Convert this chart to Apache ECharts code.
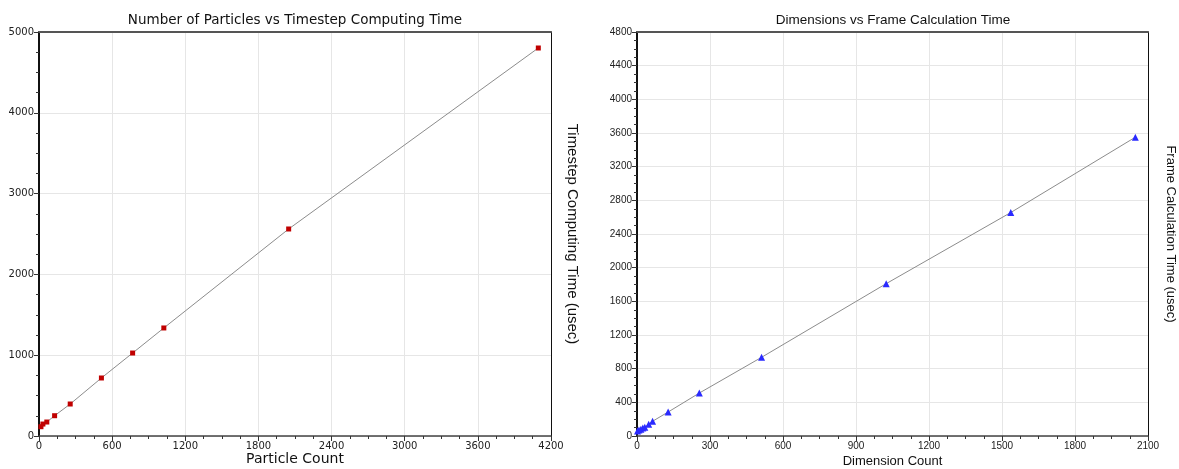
<!DOCTYPE html>
<html>
<head>
<meta charset="utf-8">
<script src="https://cdn.jsdelivr.net/npm/echarts@6/dist/echarts.min.js"></script>
<style>
  html, body { margin: 0; padding: 0; background: #fff; }
  #chart { width: 1179px; height: 469px; }
</style>
</head>
<body>
<div id="chart"></div>
<script>
// left chart: particles
const particleCount = [16, 32, 64, 128, 256, 512, 768, 1024, 2048, 4096];
const timestepTime = [115, 148, 173, 251, 396, 718, 1027, 1337, 2562, 4802];

// right chart: dimensions
const dimensionCount = [2, 8, 16, 24, 32, 48, 64, 128, 256, 512, 1024, 1536, 2048];
const frameTime = [60, 70, 80, 95, 105, 140, 175, 285, 510, 935, 1810, 2655, 3550];

const leftFont = 'DejaVu Sans';
const rightFont = 'Liberation Sans';

const chart = echarts.init(document.getElementById('chart'));

const plain = (v) => String(v);

function mainX(gridIndex, max, interval, font, name, nameSize, nameGap) {
  return {
    gridIndex: gridIndex,
    type: 'value',
    position: 'bottom',
    min: 0,
    max: max,
    interval: interval,
    name: name,
    nameLocation: 'middle',
    nameGap: nameGap,
    nameMoveOverlap: false,
    nameTextStyle: { fontFamily: font, fontSize: nameSize, color: '#111' },
    axisLine: { show: true, onZero: false, lineStyle: { color: '#444', width: 1.5 } },
    axisTick: { show: true, inside: false, length: 5, lineStyle: { color: '#333' } },
    minorTick: { show: true, splitNumber: 4, length: 3, lineStyle: { color: '#333' } },
    axisLabel: { fontFamily: font, fontSize: 10, color: '#222', margin: 5, formatter: plain },
    splitLine: { show: true, lineStyle: { color: '#e6e6e6' } },
  };
}

function topX(gridIndex, max) {
  return {
    gridIndex: gridIndex,
    type: 'value',
    position: 'top',
    min: 0,
    max: max,
    axisLine: { show: true, onZero: false, lineStyle: { color: '#555', width: 2 } },
    axisTick: { show: false },
    axisLabel: { show: false },
    splitLine: { show: false },
  };
}

function mainY(gridIndex, max, interval, font) {
  return {
    gridIndex: gridIndex,
    type: 'value',
    position: 'left',
    min: 0,
    max: max,
    interval: interval,
    axisLine: { show: true, onZero: false, lineStyle: { color: '#111', width: 2 } },
    axisTick: { show: true, inside: false, length: 5, lineStyle: { color: '#333' } },
    minorTick: { show: true, splitNumber: 4, length: 3, lineStyle: { color: '#333' } },
    axisLabel: { fontFamily: font, fontSize: 10, color: '#222', margin: 5, formatter: plain },
    splitLine: { show: true, lineStyle: { color: '#e6e6e6' } },
  };
}

function rightY(gridIndex, max, font, name, nameSize, nameGap) {
  return {
    gridIndex: gridIndex,
    type: 'value',
    position: 'right',
    min: 0,
    max: max,
    name: name,
    nameLocation: 'middle',
    nameRotate: -90,
    nameGap: nameGap,
    nameMoveOverlap: false,
    nameTextStyle: { fontFamily: font, fontSize: nameSize, color: '#111' },
    axisLine: { show: true, onZero: false, lineStyle: { color: '#111', width: 1 } },
    axisTick: { show: false },
    axisLabel: { show: false },
    splitLine: { show: false },
  };
}

const option = {
  backgroundColor: '#fff',
  animation: false,
  title: [
    {
      text: 'Number of Particles vs Timestep Computing Time',
      left: 290,
      top: 8,
      textAlign: 'center',
      textStyle: { fontFamily: leftFont, fontSize: 13.5, fontWeight: 'normal', color: '#111' },
    },
    {
      text: 'Dimensions vs Frame Calculation Time',
      left: 888,
      top: 8,
      textAlign: 'center',
      textStyle: { fontFamily: rightFont, fontSize: 13.5, fontWeight: 'normal', color: '#111' },
    },
  ],
  grid: [
    { left: 39, top: 32, right: 628, bottom: 33, containLabel: false, outerBoundsMode: 'none' },
    { left: 637, top: 32, right: 31, bottom: 33, containLabel: false, outerBoundsMode: 'none' },
  ],
  xAxis: [
    mainX(0, 4200, 600, leftFont, 'Particle Count', 14, 16),
    topX(0, 4200),
    mainX(1, 2100, 300, rightFont, 'Dimension Count', 13, 19),
    topX(1, 2100),
  ],
  yAxis: [
    mainY(0, 5000, 1000, leftFont),
    rightY(0, 5000, rightFont, 'Timestep Computing Time (usec)', 15, 14),
    mainY(1, 4800, 400, rightFont),
    rightY(1, 4800, rightFont, 'Frame Calculation Time (usec)', 13, 16),
  ],
  series: [
    {
      name: 'Particles',
      type: 'line',
      xAxisIndex: 0,
      yAxisIndex: 0,
      data: particleCount.map((x, i) => [x, timestepTime[i]]),
      symbol: 'rect',
      symbolSize: 5,
      itemStyle: { color: '#c00000' },
      lineStyle: { color: '#8c8c8c', width: 1 },
      z: 3,
    },
    {
      name: 'Dimensions',
      type: 'line',
      xAxisIndex: 2,
      yAxisIndex: 2,
      data: dimensionCount.map((x, i) => [x, frameTime[i]]),
      symbol: 'triangle',
      symbolSize: 7,
      itemStyle: { color: '#2a2aff' },
      lineStyle: { color: '#8c8c8c', width: 1 },
      z: 3,
    },
  ],
};

chart.setOption(option);
</script>
</body>
</html>
